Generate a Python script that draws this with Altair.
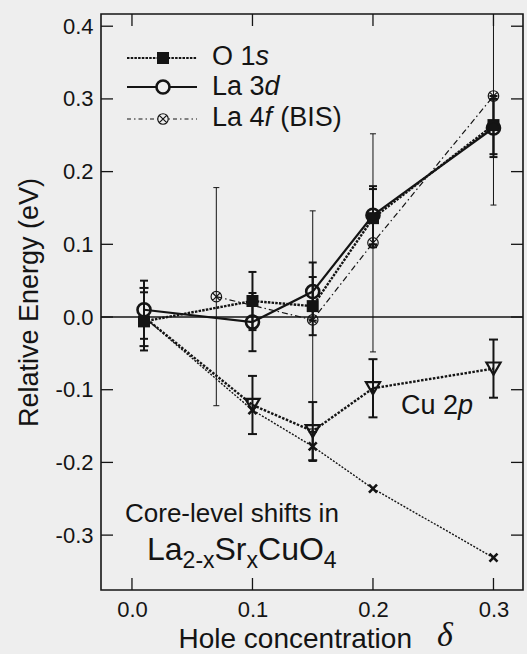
import altair as alt
import pandas as pd

# ---------------- data ----------------
x_ticks = [0.0, 0.1, 0.2, 0.3]
y_ticks = [-0.3, -0.2, -0.1, 0.0, 0.1, 0.2, 0.3, 0.4]

o1s_delta = [0.01, 0.10, 0.15, 0.20, 0.30]
o1s_value = [-0.006, 0.022, 0.015, 0.136, 0.264]
o1s_err = [0.04, 0.04, 0.04, 0.04, 0.04]

la3d_delta = [0.01, 0.10, 0.15, 0.20, 0.30]
la3d_value = [0.010, -0.007, 0.035, 0.140, 0.260]
la3d_err = [0.04, 0.04, 0.04, 0.04, 0.04]

bis_delta = [0.07, 0.15, 0.20, 0.30]
bis_value = [0.028, -0.004, 0.102, 0.304]
bis_err = [0.15, 0.15, 0.15, 0.15]

cu2p_delta = [0.01, 0.10, 0.15, 0.20, 0.30]
cu2p_value = [0.000, -0.121, -0.157, -0.098, -0.071]
cu2p_err = [0.04, 0.04, 0.04, 0.04, 0.04]

calc_delta = [0.01, 0.10, 0.15, 0.20, 0.30]
calc_value = [0.000, -0.128, -0.178, -0.236, -0.331]
calc_err = [0.0, 0.0, 0.02, 0.0, 0.0]

# ---------------- layout / style ----------------
W, H = 422, 576
XDOM = [-0.0257, 0.3245]
YDOM = [-0.3755, 0.4168]
INK = "#141414"
SANS = "Liberation Sans"
BG = "#eeeeee"

AW = {'L': .556, 'a': .556, '2': .556, '-': .333, 'x': .5, 'S': .667, 'r': .333,
      'C': .722, 'u': .556, 'O': .778, '4': .556, ' ': .278, '1': .556, '3': .556}


def tw(s, size):
    return sum(AW.get(c, .556) for c in s) * size


def frame(d, v, e):
    return pd.DataFrame({"delta": d, "value": v,
                         "lo": [a - b for a, b in zip(v, e)],
                         "hi": [a + b for a, b in zip(v, e)]})


xs = alt.Scale(domain=XDOM, nice=False, zero=False)
ys = alt.Scale(domain=YDOM, nice=False, zero=False)
xax = alt.Axis(values=x_ticks, ticks=False, domain=False, grid=False,
               labelExpr="replace(format(datum.value, '.1f'), '\u2212', '-')",
               labelFont=SANS, labelFontSize=22, labelColor=INK, labelPadding=9,
               title="Hole concentration", titleFont=SANS, titleFontSize=28,
               titleFontWeight="normal", titleColor=INK, titleAlign="left",
               titleBaseline="alphabetic", titleX=77, titleY=57)
yax = alt.Axis(values=y_ticks, ticks=False, domain=False, grid=False,
               labelExpr="replace(format(datum.value, '.1f'), '\u2212', '-')",
               labelFont=SANS, labelFontSize=22, labelColor=INK, labelPadding=8,
               title="Relative Energy (eV)", titleFont=SANS, titleFontSize=27,
               titleFontWeight="normal", titleColor=INK, titleAngle=-90,
               titleAlign="center", titleBaseline="alphabetic",
               titleX=-64, titleY=H / 2)


def X(f="delta"):
    return alt.X(f"{f}:Q", scale=xs, axis=xax)


def Y(f="value"):
    return alt.Y(f"{f}:Q", scale=ys, axis=yax)


CAP = "M-1,0L1,0"
XMARK = "M-1,-1L1,1M-1,1L1,-1"
OX = "M-1,0A1,1,0,1,1,1,0A1,1,0,1,1,-1,0ZM-0.7,-0.7L0.7,0.7M-0.7,0.7L0.7,-0.7"

layers = []

# zero line
layers.append(alt.Chart(pd.DataFrame({"value": [0.0]})).mark_rule(
    color=INK, strokeWidth=1.3).encode(y=Y()))

# inward ticks on all four sides
tx = pd.DataFrame({"delta": x_ticks})
ty = pd.DataFrame({"value": y_ticks})
TL = 12
layers.append(alt.Chart(tx).mark_rule(color=INK, strokeWidth=1.3).encode(
    x=X(), y=alt.value(H - TL), y2=alt.value(H)))
layers.append(alt.Chart(tx).mark_rule(color=INK, strokeWidth=1.3).encode(
    x=X(), y=alt.value(0), y2=alt.value(TL)))
layers.append(alt.Chart(ty).mark_rule(color=INK, strokeWidth=1.3).encode(
    y=Y(), x=alt.value(0), x2=alt.value(TL)))
layers.append(alt.Chart(ty).mark_rule(color=INK, strokeWidth=1.3).encode(
    y=Y(), x=alt.value(W - TL), x2=alt.value(W)))

series = {
    "bis": frame(bis_delta, bis_value, bis_err),
    "o1s": frame(o1s_delta, o1s_value, o1s_err),
    "la3d": frame(la3d_delta, la3d_value, la3d_err),
    "cu2p": frame(cu2p_delta, cu2p_value, cu2p_err),
    "calc": frame(calc_delta, calc_value, calc_err),
}

# error bars (clipped to the frame)
errstyle = {"bis": (1.0, 36), "o1s": (2.0, 64), "la3d": (2.0, 64),
            "cu2p": (2.0, 81), "calc": (2.0, 64)}
for k, df in series.items():
    sw, cs = errstyle[k]
    base = alt.Chart(df).transform_filter("datum.hi > datum.lo")
    layers.append(base.mark_rule(color=INK, strokeWidth=sw, clip=True).encode(
        x=X(), y=Y("lo"), y2="hi:Q"))
    for f in ["lo", "hi"]:
        layers.append(base.transform_filter(
            f"datum.{f} <= {YDOM[1]} && datum.{f} >= {YDOM[0]}").mark_point(
            shape=CAP, filled=False, color=INK, strokeWidth=sw, size=cs,
            opacity=1).encode(x=X(), y=Y(f)))

# lines
linestyle = {
    "bis": dict(strokeWidth=1.2, strokeDash=[6, 3, 1.5, 3]),
    "o1s": dict(strokeWidth=2.4, strokeDash=[2.5, 1.2]),
    "la3d": dict(strokeWidth=2.2),
    "cu2p": dict(strokeWidth=2.4, strokeDash=[2.5, 1.5]),
    "calc": dict(strokeWidth=1.4, strokeDash=[2, 1.5]),
}
for k, df in series.items():
    layers.append(alt.Chart(df).mark_line(color=INK, **linestyle[k]).encode(
        x=X(), y=Y(), order="delta:Q"))

# markers
layers.append(alt.Chart(series["o1s"]).mark_point(
    shape="square", filled=True, color=INK, size=144, opacity=1).encode(x=X(), y=Y()))
layers.append(alt.Chart(series["la3d"]).mark_point(
    shape="circle", filled=False, color=INK, strokeWidth=2.6, size=170, opacity=1
).encode(x=X(), y=Y()))
layers.append(alt.Chart(series["bis"]).mark_point(
    shape=OX, filled=False, color=INK, strokeWidth=1.2, size=110, opacity=1
).encode(x=X(), y=Y()))
layers.append(alt.Chart(series["cu2p"]).transform_filter("datum.delta > 0.05").mark_point(
    shape="triangle-down", filled=False, color=INK, strokeWidth=2.2, size=200, opacity=1
).encode(x=X(), y=Y()))
layers.append(alt.Chart(series["calc"]).transform_filter("datum.delta > 0.05").mark_point(
    shape=XMARK, filled=False, color=INK, strokeWidth=2.6, size=64, opacity=1
).encode(x=X(), y=Y()))

# manual legend
one = pd.DataFrame({"k": [0]})
LX0, LX1, LM, LT = 26, 96, 62, 111
rows = [44, 73, 105]
base_rows = [51, 81, 112]
legend_lines = [dict(strokeWidth=2.0, strokeDash=[2.5, 1.2]),
                dict(strokeWidth=2.0),
                dict(strokeWidth=1.1, strokeDash=[4, 3, 1.5, 3])]
for r, st in zip(rows, legend_lines):
    layers.append(alt.Chart(one).mark_rule(color=INK, **st).encode(
        x=alt.value(LX0), x2=alt.value(LX1), y=alt.value(r)))
layers.append(alt.Chart(one).mark_point(shape="square", filled=True, color=INK,
                                        size=144, opacity=1).encode(
    x=alt.value(LM), y=alt.value(rows[0])))
layers.append(alt.Chart(one).mark_point(shape="circle", filled=False, color=INK,
                                        strokeWidth=2.6, size=170, fill=BG,
                                        opacity=1).encode(
    x=alt.value(LM), y=alt.value(rows[1])))
layers.append(alt.Chart(one).mark_point(shape=OX, filled=False, color=INK,
                                        strokeWidth=1.2, size=110, fill=BG,
                                        opacity=1).encode(
    x=alt.value(LM), y=alt.value(rows[2])))


def txt(s, x, y, size, style="normal", font=SANS):
    return alt.Chart(one).mark_text(text=s, font=font, fontSize=size, fontStyle=style,
                                    align="left", baseline="alphabetic",
                                    color=INK).encode(x=alt.value(x), y=alt.value(y))


FS = 27
layers.append(txt("O 1", LT, base_rows[0], FS))
layers.append(txt("s", LT + tw("O 1", FS), base_rows[0], FS, "italic"))
layers.append(txt("La 3", LT, base_rows[1], FS))
layers.append(txt("d", LT + tw("La 3", FS), base_rows[1], FS, "italic"))
layers.append(txt("La 4", LT, base_rows[2], FS))
layers.append(txt("f", LT + tw("La 4", FS), base_rows[2], FS, "italic"))
layers.append(txt("(BIS)", LT + tw("La 4", FS) + 0.278 * FS + 0.30 * FS, base_rows[2], FS))

# Cu 2p label
CX, CY = 300, 400
layers.append(txt("Cu 2", CX, CY, FS))
layers.append(txt("p", CX + tw("Cu 2", FS), CY, FS, "italic"))

# Core-level caption
layers.append(txt("Core-level shifts in", 24, 508, 26))
BIGF, SUBF = 32, 23
FX, FY, SUBDY = 46, 546, 8
parts = [("La", BIGF, 0), ("2-x", SUBF, SUBDY), ("Sr", BIGF, 0), ("x", SUBF, SUBDY),
         ("CuO", BIGF, 0), ("4", SUBF, SUBDY)]
cx = FX
for s, f, dy in parts:
    layers.append(txt(s, cx, FY + dy, f))
    cx += tw(s, f)

# delta in the x title
layers.append(txt("\u03b4", 336, 632, 34, "italic", "Liberation Serif"))

chart = alt.layer(*layers).properties(
    width=W, height=H,
    autosize=alt.AutoSizeParams(type="none"),
    padding={"left": 101, "top": 14, "right": 4, "bottom": 64},
    background=BG,
).configure_view(stroke=INK, strokeWidth=1.6)

chart.save("out.html", embed_options={"renderer": "svg", "actions": False})
